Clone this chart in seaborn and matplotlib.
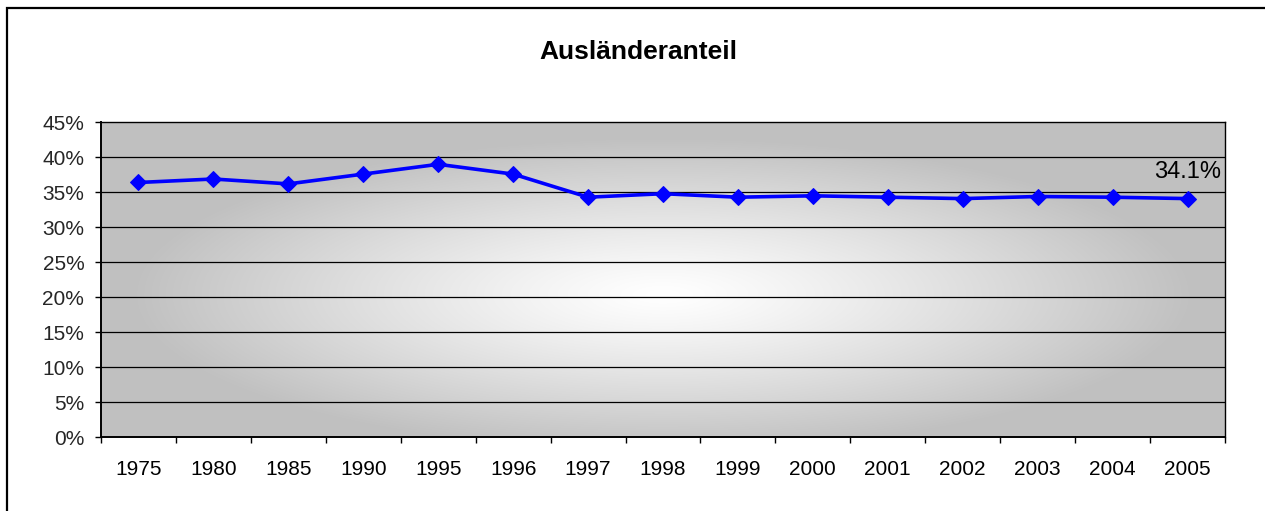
import numpy as np
import pandas as pd
import matplotlib
matplotlib.use("Agg")
import matplotlib.pyplot as plt
import seaborn as sns
from matplotlib.patches import Rectangle
from matplotlib.ticker import PercentFormatter

years = ["1975", "1980", "1985", "1990", "1995", "1996", "1997", "1998",
         "1999", "2000", "2001", "2002", "2003", "2004", "2005"]
share = [0.364, 0.369, 0.362, 0.376, 0.390, 0.376, 0.343, 0.348,
         0.343, 0.345, 0.343, 0.341, 0.344, 0.343, 0.341]
y_ticks = [0.0, 0.05, 0.10, 0.15, 0.20, 0.25, 0.30, 0.35, 0.40, 0.45]
title = "Ausländeranteil"
last_label = "34.1%"

sns.set_theme(style="white")
plt.rcParams['font.family'] = ['Liberation Sans', 'DejaVu Sans']

W, H = 1265, 511
fig = plt.figure(figsize=(W / 100, H / 100), dpi=100)
fig.patch.set_facecolor("white")

left, right, top, bottom = 101, 1225, 122.3, 437.3
ax = fig.add_axes([left / W, (H - bottom) / H, (right - left) / W, (bottom - top) / H])

df = pd.DataFrame({"Jahr": years, "Anteil": share})

# radial gradient background
nx, ny = 400, 200
gx = np.linspace(-1, 1, nx)
gy = np.linspace(-1, 1, ny)
XX, YY = np.meshgrid(gx, gy)
r = np.sqrt((XX / 0.95) ** 2 + ((YY + 0.1) / 1.0) ** 2)
t = np.clip(r, 0, 1) ** 1.2
c = 1.0 * (1 - t) + 0.753 * t
img = np.dstack([c, c, c])
ax.imshow(img, extent=[-0.5, len(years) - 0.5, 0, 0.45], aspect="auto",
          zorder=0, interpolation="bilinear", origin="lower")

sns.lineplot(data=df, x="Jahr", y="Anteil", ax=ax, color="#0000FF",
             linewidth=2.6, marker="D", markersize=8.5, markeredgecolor="#0000FF",
             sort=False, zorder=3)

ax.set_xlim(-0.5, len(years) - 0.5)
ax.set_ylim(0, 0.45)
ax.set_yticks(y_ticks)
ax.yaxis.set_major_formatter(PercentFormatter(1.0, decimals=0))
for yv in y_ticks[1:-1]:
    ax.axhline(yv, color="black", linewidth=0.9, zorder=1)

ax.set_xticks(np.arange(-0.5, len(years), 1.0), minor=True)
ax.tick_params(axis="x", which="major", length=0, pad=16, labelsize=15, colors="black")
ax.tick_params(axis="x", which="minor", length=4.5, width=1, color="black", direction="out")
ax.tick_params(axis="y", which="major", length=4, width=1, color="black", pad=8,
               labelsize=15, direction="out")
ax.tick_params(left=True, bottom=True, which="both")
ax.set_xlabel("")
ax.set_ylabel("")
for s in ["top", "right"]:
    ax.spines[s].set_color("black")
    ax.spines[s].set_linewidth(1.0)
for s in ["left", "bottom"]:
    ax.spines[s].set_color("black")
    ax.spines[s].set_linewidth(1.4)

ax.annotate(last_label, xy=(len(years) - 1, share[-1]), xytext=(0, 19),
            textcoords="offset points", ha="center", va="center", fontsize=17,
            color="black", zorder=4)

fig.text(638 / W, 1 - 52 / H, title, ha="center", va="center",
         fontsize=19, fontweight="bold", color="black")

fig.patches.append(Rectangle((7 / W, -0.1), 1.2, 1 - 8 / H + 0.1,
                             transform=fig.transFigure, fill=False,
                             edgecolor="black", linewidth=1.6, zorder=10))

fig.savefig("out.png", dpi=100, facecolor="white")
